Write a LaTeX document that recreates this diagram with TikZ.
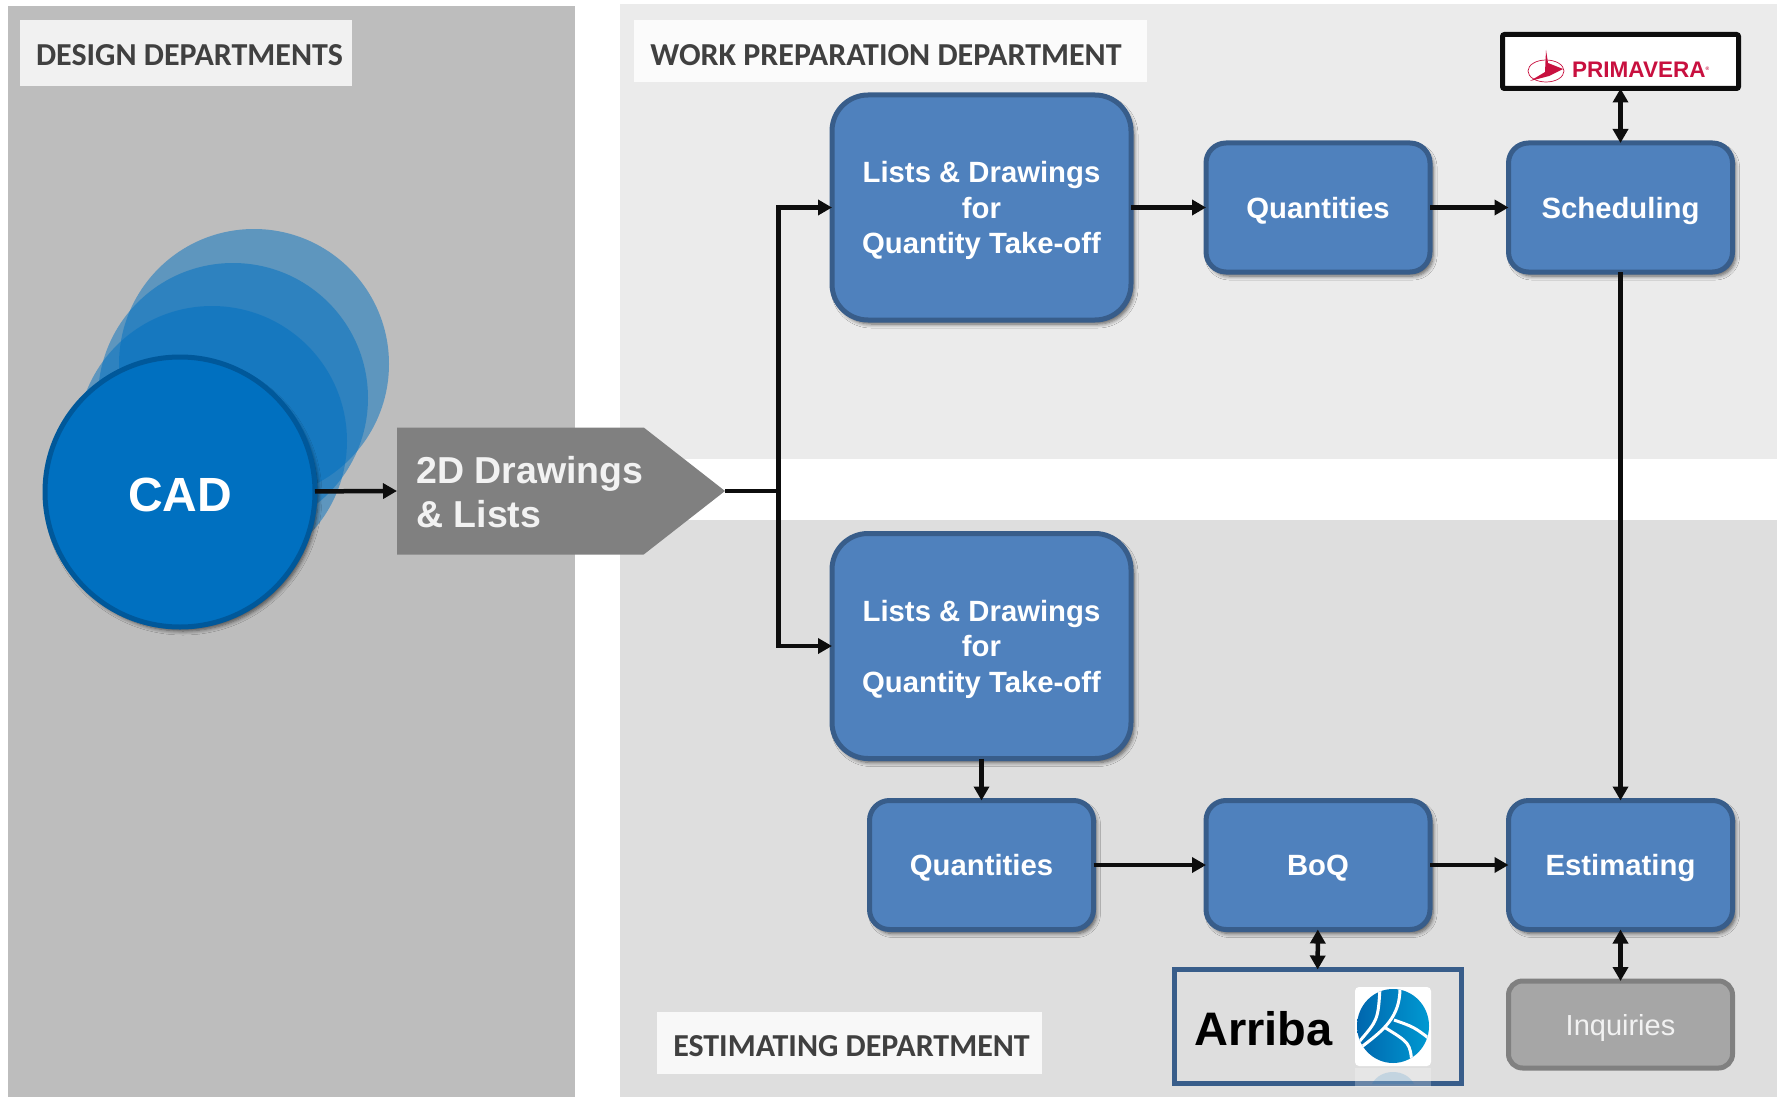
\documentclass[tikz,border=0pt]{standalone}
\usepackage{fontspec}
\setmainfont{Liberation Sans}
\newfontfamily\labelfont{Carlito}
\usetikzlibrary{arrows.meta,shadows.blur,shapes.symbols}
\definecolor{designgray}{HTML}{BDBDBD}
\definecolor{workgray}{HTML}{EBEBEB}
\definecolor{estimgray}{HTML}{DEDEDE}
\definecolor{boxblue}{HTML}{4F81BD}
\definecolor{boxedge}{HTML}{385D8A}
\definecolor{cadblue}{HTML}{0070C0}
\definecolor{cadedge}{HTML}{00589A}
\definecolor{primared}{HTML}{C8103F}
\tikzset{
  softshadow/.style={blur shadow={shadow xshift=3pt,shadow yshift=-4pt,shadow blur radius=4pt,shadow blur steps=6,shadow opacity=60}},
  flowbox/.style={draw=boxedge,line width=5pt,fill=boxblue,rounded corners=20pt,outer sep=0pt,minimum width=224pt,minimum height=129pt,
    align=center,text=white,text depth=0pt,font=\fontsize{29.3}{35.5}\selectfont\bfseries,softshadow},
  listbox/.style={flowbox,rounded corners=36pt,minimum width=299pt,minimum height=225pt},
  deptlabel/.style={fill=white,fill opacity=.8,text opacity=1,text=black!75,text height=26pt,text depth=0pt,font=\labelfont\fontsize{32}{38}\selectfont\bfseries,inner sep=0pt,minimum height=62pt},
  ghost/.style={circle,fill=cadblue,fill opacity=.5,minimum size=270pt,inner sep=0pt},
  flow/.style={-{Triangle[length=14pt,width=15pt]},line width=4.5pt,black!95},
  twoway/.style={{Triangle[length=14pt,width=15pt]}-{Triangle[length=14pt,width=15pt]},line width=4.5pt,black!95}
}
\begin{document}
\begin{tikzpicture}[x=1pt,y=-1pt]
\useasboundingbox (0,0) rectangle (1777,1097);
\fill[white] (0,0) rectangle (1777,1097);
\fill[designgray] (8,6) rectangle (575,1097);
\fill[workgray] (620,4) rectangle (1777,459);
\fill[estimgray] (620,520) rectangle (1777,1097);
\node[deptlabel,minimum width=332pt,minimum height=66pt] (designlabel) at (186,53) {\hspace*{7pt}DESIGN DEPARTMENTS};
\node[deptlabel,minimum width=513pt,text height=30pt] (worklabel) at (890.5,51) {WORK PREPARATION DEPARTMENT\hspace*{9pt}};
\node[deptlabel,minimum width=385pt] (estimlabel) at (849.5,1043) {\hspace*{4pt}ESTIMATING DEPARTMENT};
\node[ghost] (ghostc) at (254,364) {};
\node[ghost] (ghostb) at (233,398) {};
\node[ghost] (ghosta) at (212,441) {};
\node[circle,draw=cadedge,line width=5pt,fill=cadblue,minimum size=270pt,inner sep=0pt,outer sep=0pt,text=white,text height=38pt,text depth=0pt,font=\fontsize{48}{54}\selectfont\bfseries,softshadow] (cad) at (180,492) {CAD};
\node[signal,signal to=east,signal pointer angle=76,fill=black!50,minimum width=328pt,minimum height=127pt,inner sep=0pt,outer sep=0pt,anchor=west] (drawings) at (397,491) {};
\node[anchor=west,align=left,text=white!95!black,inner sep=0pt,font=\fontsize{37.5}{44}\selectfont\bfseries] (drawingstext) at (416,492) {2D Drawings\\\& Lists};
\node[listbox] (lists1) at (981.5,207.5) {Lists \& Drawings\\for\\Quantity Take-off};
\node[flowbox] (quantities1) at (1318,207.5) {Quantities};
\node[flowbox] (scheduling) at (1620.5,207.5) {Scheduling};
\node[listbox] (lists2) at (981.5,646) {Lists \& Drawings\\for\\Quantity Take-off};
\node[flowbox] (quantities2) at (981.5,865) {Quantities};
\node[flowbox] (boq) at (1318,865) {BoQ};
\node[flowbox] (estimating) at (1620.5,865) {Estimating};
\node[draw=black!50,line width=5pt,fill=black!35,rounded corners=14pt,outer sep=0pt,minimum width=224pt,minimum height=87pt,text=white!95!black,text depth=0pt,font=\fontsize{29}{35}\selectfont] (inquiries) at (1620.5,1024.5) {Inquiries};
\node[draw=black!95,line width=5pt,fill=white,rounded corners=2pt,outer sep=0pt,minimum width=236pt,minimum height=54pt] (primavera) at (1620.5,61.5) {};
\node[text=primared,inner sep=0pt,anchor=base west,font=\fontsize{22.5}{24}\selectfont\bfseries] (primaveratext) at (1572,78) {PRIMAVERA\raisebox{7pt}{\fontsize{5}{6}\selectfont\textregistered}};
\draw[primared,line width=.7pt] (1546,71) ellipse (18pt and 11pt);
\fill[primared] (1546,50) -- (1548,63) -- (1563,69) -- (1549,76) -- (1530,81) -- (1545,72) -- cycle;
\node[draw=boxedge,line width=5pt,outer sep=0pt,minimum width=287pt,minimum height=114pt] (arribabox) at (1317.5,1026.5) {};
\node[inner sep=0pt,anchor=base west,text=black,font=\fontsize{47}{54}\selectfont\bfseries] (arribatext) at (1194,1045) {Arriba};
\fill[white,rounded corners=4pt] (1355,987) rectangle (1431,1066);
\begin{scope}
\clip (1393,1026) ellipse (36pt and 37pt);
\shade[left color=cadblue!90!black,right color=cadblue!70!cyan] (1355,987) rectangle (1431,1066);
\draw[white,line width=3pt] (1380,988) .. controls (1378,1020) .. (1358,1043);
\draw[white,line width=3pt] (1400,988) .. controls (1400,1017) and (1384,1030) .. (1360,1048);
\draw[white,line width=3pt] (1384,1027) .. controls (1410,1043) .. (1412,1064);
\draw[white,line width=3pt] (1394,1020) .. controls (1414,1027) .. (1431,1040);
\end{scope}
\fill[white,opacity=.25] (1355,1068) rectangle (1431,1087);
\fill[cadblue,opacity=.15] (1372,1084) .. controls (1380,1068) and (1406,1068) .. (1414,1084) -- cycle;
\coordinate (trunk) at (778.5,491);
\draw[flow] (cad) -- (drawings.west);
\draw[line width=4.5pt,black!95] (drawings.east) -- (trunk);
\draw[flow] (trunk) |- (lists1.west);
\draw[flow] (trunk) |- (lists2.west);
\draw[flow] (lists1) -- (quantities1);
\draw[flow] (quantities1) -- (scheduling);
\draw[flow] (scheduling) -- (estimating);
\draw[twoway] (scheduling) -- (primavera);
\draw[flow] (lists2) -- (quantities2);
\draw[flow] (quantities2) -- (boq);
\draw[flow] (boq) -- (estimating);
\draw[twoway] (boq) -- (arribabox);
\draw[twoway] (estimating) -- (inquiries);
\end{tikzpicture}
\end{document}
